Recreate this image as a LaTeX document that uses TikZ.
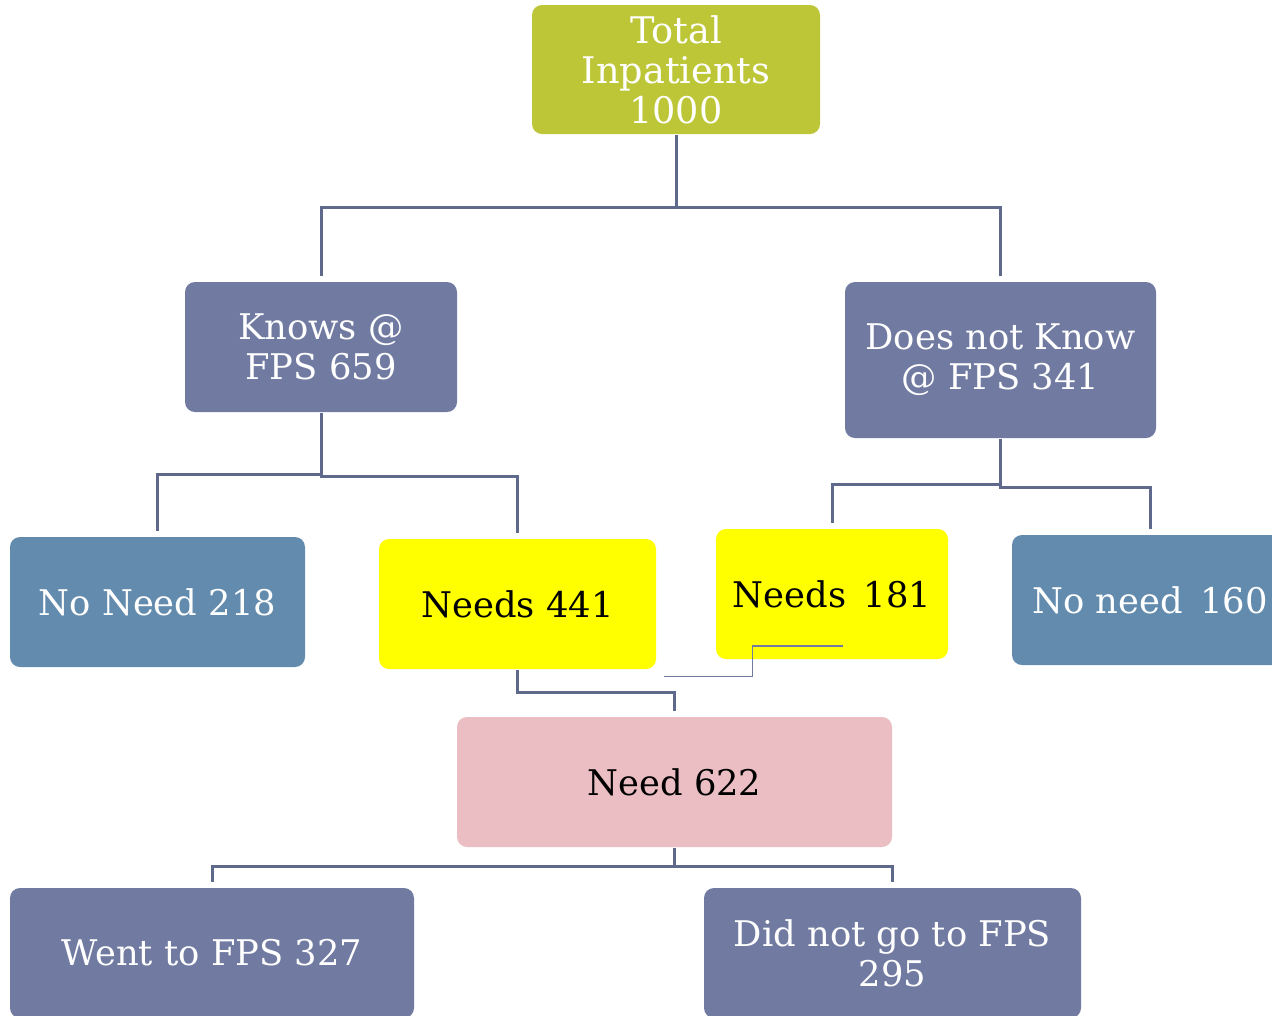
\documentclass[tikz,border=0pt]{standalone}
\usepackage{fontspec}
\setmainfont{DejaVu Serif}

\definecolor{boxgreen}{RGB}{189,198,55}
\definecolor{boxslate}{RGB}{113,123,162}
\definecolor{boxsteel}{RGB}{99,139,174}
\definecolor{boxyellow}{RGB}{255,255,0}
\definecolor{boxpink}{RGB}{234,190,194}
\definecolor{linkslate}{RGB}{94,105,140}

\tikzset{every picture/.style={line width=0.75pt}}
\tikzset{
  box/.style={rounded corners=7.5pt, align=center, inner sep=0pt, text=white,
    font=\fontsize{26.5}{30}\selectfont},
  link/.style={draw=linkslate, line width=2.25pt, shorten >=4pt},
  thinlink/.style={draw=boxslate, line width=1.1pt},
}

\begin{document}
\begin{tikzpicture}[x=0.75pt,y=0.75pt,yscale=-1,xscale=1]
\useasboundingbox (0,0) rectangle (1272,1015);
\clip (0,0) rectangle (1272,1015);

% top
\node[box, fill=boxgreen, font=\fontsize{27.5}{30}\selectfont, minimum width=216pt, minimum height=96.75pt] (total) at (676,69.5) {Total\\Inpatients\\1000};

% second row
\node[box, fill=boxslate, minimum width=204pt, minimum height=97.5pt] (knows) at (321,347) {Knows @\\FPS 659};
\node[box, fill=boxslate, minimum width=233.25pt, minimum height=117pt] (dnk) at (1000.5,360) {Does not Know\\@ FPS 341};

% third row
\node[box, fill=boxsteel, minimum width=221.25pt, minimum height=97.5pt] (noneedA) at (157.5,602) {No Need 218};
\node[box, fill=boxyellow, text=black, minimum width=207.75pt, minimum height=97.5pt] (needsA) at (517.5,604) {Needs 441};
\node[box, fill=boxyellow, text=black, minimum width=174pt, minimum height=97.5pt] (needsB) at (832,594) {Needs\enspace 181};
\node[box, fill=boxsteel, minimum width=207pt, minimum height=97.5pt] (noneedB) at (1150,600) {No need\enspace 160};

% need
\node[box, fill=boxpink, text=black, minimum width=326.25pt, minimum height=97.5pt] (need) at (674.5,782) {Need 622};

% bottom row
\node[box, fill=boxslate, minimum width=303pt, minimum height=97.5pt] (went) at (212,953) {Went to FPS 327};
\node[box, fill=boxslate, minimum width=282.75pt, minimum height=97.5pt] (notwent) at (892.5,953) {Did not go to FPS\\295};

% connectors
\draw[link, shorten >=0pt] (total.south) -- ++(0,73) coordinate (tj);
\draw[link] (tj) -| (knows.north);
\draw[link] (tj) -| (dnk.north);

\draw[link, shorten >=0pt] (knows.south) -- ++(0,62) coordinate (kj);
\draw[link] (kj) -| (noneedA.north);
\draw[link] (kj) -- ++(0,2) -| (needsA.north);

\draw[link, shorten >=0pt] (dnk.south) -- ++(0,46) coordinate (dj);
\draw[link] (dj) -| (needsB.north);
\draw[link] (dj) -- ++(0,3) -| (noneedB.north);

\draw[link] (needsA.south) -- ++(0,23) -| (need.north);

\draw[link, shorten >=0pt] (need.south) -- ++(0,19) coordinate (nj);
\draw[link] (nj) -| (went.north);
\draw[link] (nj) -| (notwent.north);

% stray line
\coordinate (stray) at (843,646);
\draw[thinlink] ([shift={(7,7)}]needsA.south east) -- ++(89,0) |- (stray);

\end{tikzpicture}
\end{document}
